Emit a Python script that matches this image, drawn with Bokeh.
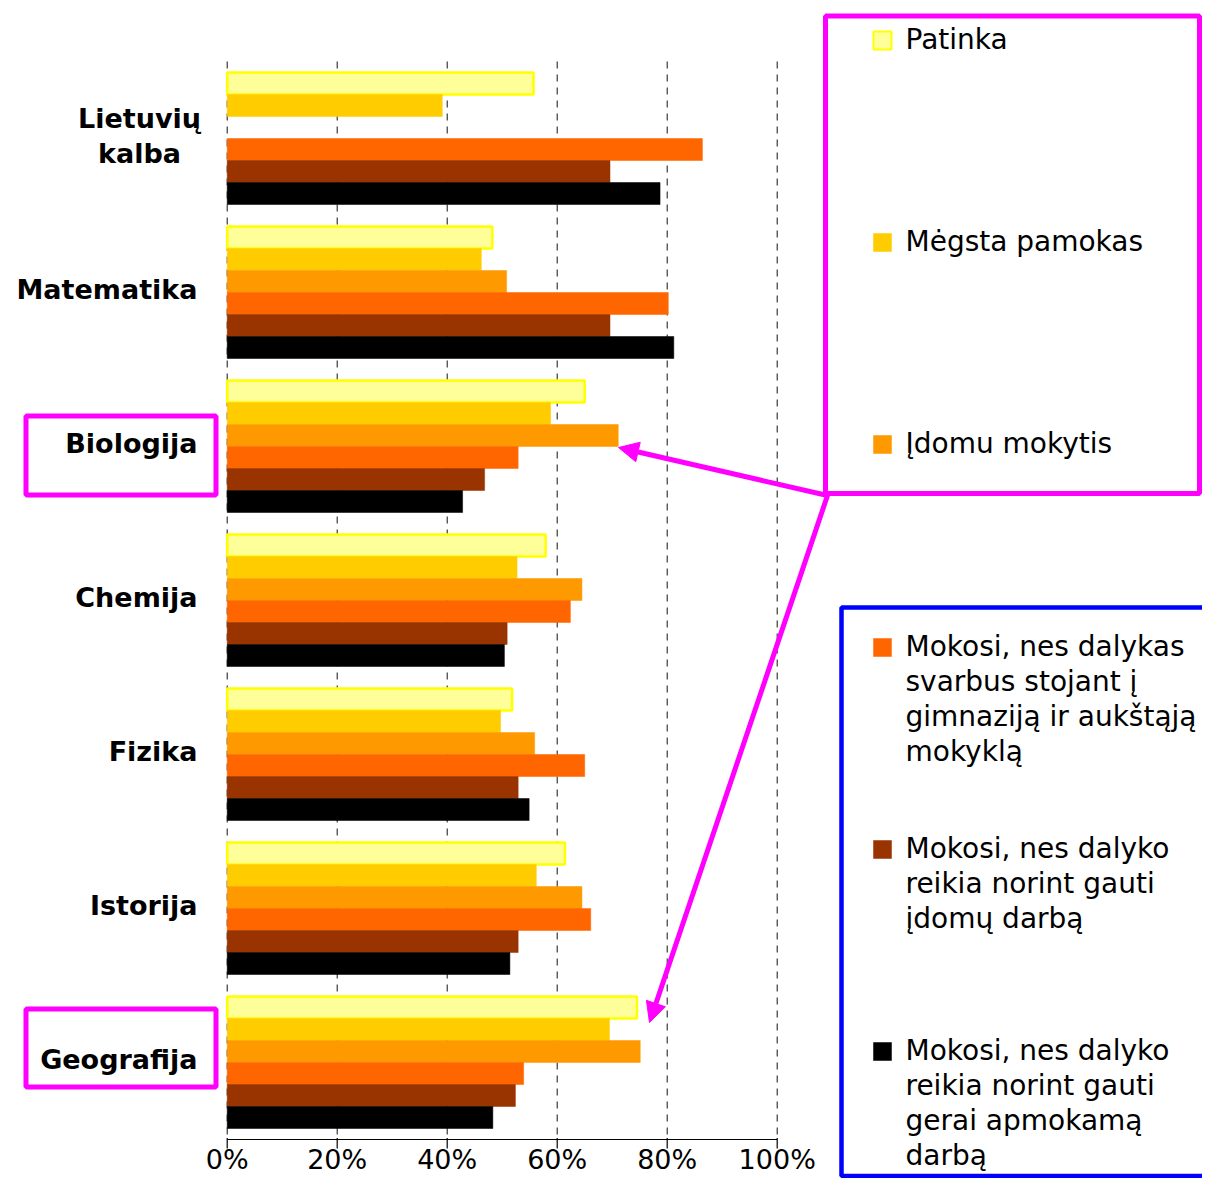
import numpy as np
from bokeh.plotting import figure
from bokeh.models import ColumnDataSource, Range1d, Arrow, NormalHead
from bokeh.core.properties import value
from bokeh.embed import file_html
from bokeh.resources import INLINE

# ---------------- data ----------------
categories = ["Lietuvių\nkalba", "Matematika", "Biologija", "Chemija",
              "Fizika", "Istorija", "Geografija"]
series = [
    "Patinka",
    "Mėgsta pamokas",
    "Įdomu mokytis",
    "Mokosi, nes dalykas\nsvarbus stojant į\ngimnaziją ir aukštąją\nmokyklą",
    "Mokosi, nes dalyko\nreikia norint gauti\nįdomų darbą",
    "Mokosi, nes dalyko\nreikia norint gauti\ngerai apmokamą\ndarbą",
]
patinka = [55.7, 48.2, 65.0, 57.9, 51.8, 61.4, 74.5]
megsta_pamokas = [39.1, 46.2, 58.8, 52.7, 49.7, 56.2, 69.5]
idomu_mokytis = [np.nan, 50.8, 71.1, 64.5, 55.9, 64.5, 75.1]
svarbus_stojant = [86.4, 80.2, 52.9, 62.4, 65.0, 66.1, 53.9]
idomus_darbas = [69.6, 69.6, 46.8, 50.9, 52.9, 52.9, 52.4]
apmokamas_darbas = [78.7, 81.2, 42.8, 50.4, 54.9, 51.4, 48.3]
x_ticks = [0, 20, 40, 60, 80, 100]
x_tick_labels = ["0%", "20%", "40%", "60%", "80%", "100%"]
highlighted = ["Biologija", "Geografija"]

values = [patinka, megsta_pamokas, idomu_mokytis, svarbus_stojant,
          idomus_darbas, apmokamas_darbas]
fill_colors = ["#FFFF99", "#FFCC00", "#FF9900", "#FF6600", "#993300", "#000000"]
edge_colors = ["#FFFF00", "#FFCC00", "#FF9900", "#FF6600", "#993300", "#000000"]
edge_widths = [2.5, 0.5, 0.5, 0.5, 0.5, 0.5]

# ---------------- geometry ----------------
W, H = 1202, 1178
PX_PER_PCT = 5.5
X0_PX = 226.7            # pixel of 0 %
SLOT_PX = 22.0           # pixel height of one bar slot
Y0_PX = 83.0             # pixel of the first bar centre

n_s = len(series)
slot = n_s + 1
n_c = len(categories)

x_range = Range1d(-X0_PX / PX_PER_PCT, (W - X0_PX) / PX_PER_PCT)
y_range = Range1d((H - Y0_PX) / SLOT_PX, -Y0_PX / SLOT_PX)

p = figure(width=W, height=H, x_range=x_range, y_range=y_range,
           output_backend="svg", toolbar_location=None,
           x_axis_location=None, y_axis_location=None,
           min_border=0, title=None)
p.outline_line_color = None
p.background_fill_color = "white"
p.border_fill_color = "white"
p.grid.visible = False
p.extra_x_ranges = {"px": Range1d(0, W)}
p.extra_y_ranges = {"px": Range1d(H, 0)}

FONT = value("DejaVu Sans")

# ---------------- gridlines ----------------
y_top = -1
y_bot = n_c * slot - 1
p.segment(x0=x_ticks, x1=x_ticks, y0=[y_top] * len(x_ticks), y1=[y_bot] * len(x_ticks),
          line_color="#111111", line_width=1, line_dash="7 6")

# ---------------- bars ----------------
ys, rights, fills, edges, lws = [], [], [], [], []
for s, vals in enumerate(values):
    for c, v in enumerate(vals):
        ys.append(c * slot + s)
        rights.append(v)
        fills.append(fill_colors[s])
        edges.append(edge_colors[s])
        lws.append(edge_widths[s])
bars = ColumnDataSource(dict(y=ys, right=np.array(rights, dtype=float),
                             fill=fills, edge=edges, lw=lws))
p.hbar(y="y", left=0, right="right", height=1, source=bars,
       fill_color="fill", line_color="edge", line_width="lw")

# ---------------- x axis ----------------
p.segment(x0=[x_ticks[0]], x1=[x_ticks[-1]], y0=[y_bot], y1=[y_bot],
          line_color="black", line_width=1.2)
p.segment(x0=x_ticks, x1=x_ticks, y0=[y_bot - 1.5 / SLOT_PX] * len(x_ticks),
          y1=[y_bot + 9 / SLOT_PX] * len(x_ticks), line_color="black", line_width=1.2)
p.text(x=x_ticks, y=[1159] * len(x_ticks), text=x_tick_labels, y_range_name="px",
       text_font=FONT, text_font_size="27px", text_align="center",
       text_baseline="middle", text_color="black")

# ---------------- category labels ----------------
lab_x = [139 if "\n" in c else 197 for c in categories]
lab_align = ["center" if "\n" in c else "right" for c in categories]
lab_y = [c * slot + (n_s - 1) / 2 - 0.12 for c in range(n_c)]
p.text(x="x", y="y", text="t", text_align="a", x_range_name="px",
       source=ColumnDataSource(dict(x=lab_x, y=lab_y, t=categories, a=lab_align)),
       text_font=FONT, text_font_size="27px", text_font_style="bold",
       text_baseline="middle", text_line_height=1.145, text_color="black")

# highlight boxes around labels
p.quad(left=[25.5, 25.5], right=[215.5, 215.5],
       top=[415.5, 1008.5], bottom=[494.5, 1086.5],
       x_range_name="px", y_range_name="px",
       fill_color=None, line_color="#FF00FF", line_width=5)

# ---------------- legends ----------------
legend_y = [40, 242, 444, 647, 849, 1051]
p.quad(left=[825], right=[1199], top=[15.5], bottom=[493],
       x_range_name="px", y_range_name="px",
       fill_color=None, line_color="#FF00FF", line_width=5)
p.quad(left=[841], right=[1250], top=[607], bottom=[1175.5],
       x_range_name="px", y_range_name="px",
       fill_color=None, line_color="#0000FF", line_width=4.5)
p.rect(x=[882] * n_s, y=legend_y, width=18, height=18,
       x_range_name="px", y_range_name="px",
       fill_color=fill_colors, line_color=edge_colors,
       line_width=[2 if w > 1 else 0.5 for w in edge_widths])
p.text(x=[905] * n_s, y=[v - 18 for v in legend_y], text=series,
       x_range_name="px", y_range_name="px",
       text_font=FONT, text_font_size="28px", text_align="left",
       text_baseline="top", text_line_height=1.07, text_color="black")

# ---------------- arrows ----------------
for (xe, ye) in [(618, 447), (649, 1022)]:
    p.add_layout(Arrow(x_start=827, y_start=495, x_end=xe, y_end=ye,
                       x_range_name="px", y_range_name="px",
                       line_color="#FF00FF", line_width=5,
                       end=NormalHead(size=20, fill_color="#FF00FF",
                                      line_color="#FF00FF", line_width=1)))

open("out.html", "w").write(file_html(p, INLINE))
